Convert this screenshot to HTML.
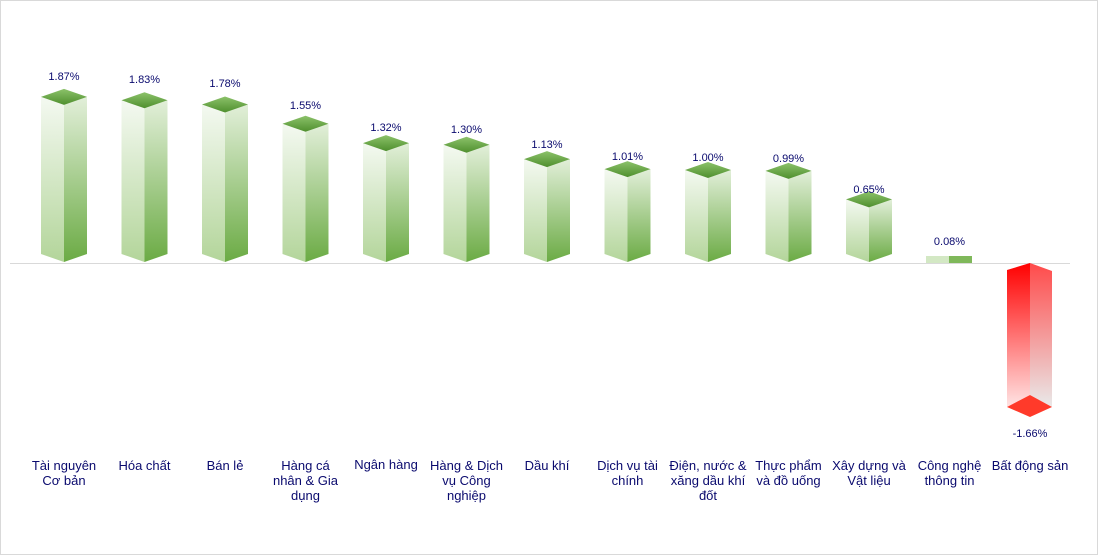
<!DOCTYPE html>
<html><head><meta charset="utf-8"><style>
html,body{margin:0;padding:0;background:#fff}
svg{display:block}
text{font-family:"Liberation Sans",Arial,sans-serif;fill:#0a0a6e}
.v{font-size:11px}
.c{font-size:13px}
</style></head><body>
<svg id="s" width="1098" height="555" viewBox="0 0 1098 555" xmlns="http://www.w3.org/2000/svg">
<defs>
<linearGradient id="gl" x1="0" y1="0" x2="0" y2="1"><stop offset="0" stop-color="#f4f9f1"/><stop offset="1" stop-color="#b3d59a"/></linearGradient>
<linearGradient id="gr" x1="0" y1="0" x2="0" y2="1"><stop offset="0" stop-color="#e2efd9"/><stop offset="1" stop-color="#6bab44"/></linearGradient>
<linearGradient id="gt" x1="0" y1="0" x2="0" y2="1"><stop offset="0" stop-color="#8cc26a"/><stop offset="1" stop-color="#4f8f2e"/></linearGradient>
<linearGradient id="nl" x1="0" y1="0" x2="0" y2="1"><stop offset="0" stop-color="#ff0000"/><stop offset="1" stop-color="#ffe4e4"/></linearGradient>
<linearGradient id="nr" x1="0" y1="0" x2="0" y2="1"><stop offset="0" stop-color="#ff4a4a"/><stop offset="1" stop-color="#e9e9e9"/></linearGradient>
</defs>
<rect x="0.5" y="0.5" width="1097" height="554" fill="#fff" stroke="#d9d9d9"/>
<line x1="10" y1="263.5" x2="1070" y2="263.5" stroke="#d9d9d9" stroke-width="1"/>
<g id="bars"></g>
<polygon points="1007,270 1030,263 1030,395 1007,407" fill="url(#nl)"/>
<polygon points="1030,263 1052,271 1052,407 1030,395" fill="url(#nr)"/>
<polygon points="1007,407 1030,395 1052,407 1030,417" fill="#ff3a2a"/>
<rect x="926" y="256" width="23" height="7" fill="#d3e8c4"/>
<rect x="949" y="256" width="23" height="7" fill="#7fb85a"/>
<g class="v" text-anchor="middle">
<text x="64" y="80">1.87%</text>
<text x="144.5" y="83">1.83%</text>
<text x="225" y="87">1.78%</text>
<text x="305.5" y="109">1.55%</text>
<text x="386" y="131">1.32%</text>
<text x="466.5" y="133">1.30%</text>
<text x="547" y="148">1.13%</text>
<text x="627.5" y="160">1.01%</text>
<text x="708" y="161">1.00%</text>
<text x="788.5" y="162">0.99%</text>
<text x="869" y="193">0.65%</text>
<text x="949.5" y="245">0.08%</text>
<text x="1030" y="437">-1.66%</text>
</g>
<g class="c" text-anchor="middle">
<text x="64" y="470">Tài nguyên<tspan x="64" dy="15">Cơ bản</tspan></text>
<text x="144.5" y="470">Hóa chất</text>
<text x="225" y="470">Bán lẻ</text>
<text x="305.5" y="470">Hàng cá<tspan x="305.5" dy="15">nhân &amp; Gia</tspan><tspan x="305.5" dy="15">dụng</tspan></text>
<text x="386" y="469">Ngân hàng</text>
<text x="466.5" y="470">Hàng &amp; Dịch<tspan x="466.5" dy="15">vụ Công</tspan><tspan x="466.5" dy="15">nghiệp</tspan></text>
<text x="547" y="470">Dầu khí</text>
<text x="627.5" y="470">Dịch vụ tài<tspan x="627.5" dy="15">chính</tspan></text>
<text x="708" y="470">Điện, nước &amp;<tspan x="708" dy="15">xăng dầu khí</tspan><tspan x="708" dy="15">đốt</tspan></text>
<text x="788.5" y="470">Thực phẩm<tspan x="788.5" dy="15">và đồ uống</tspan></text>
<text x="869" y="470">Xây dựng và<tspan x="869" dy="15">Vật liệu</tspan></text>
<text x="949.5" y="470">Công nghệ<tspan x="949.5" dy="15">thông tin</tspan></text>
<text x="1030" y="470">Bất động sản</text>
</g>
</svg>
<script>
var v=[1.87,1.83,1.78,1.55,1.32,1.30,1.13,1.01,1.00,0.99,0.65];
var g=document.getElementById('bars'),h='';
for(var i=0;i<v.length;i++){var c=64+80.5*i,T=262-v[i]*84,l=c-23,r=c+23;
h+='<polygon points="'+l+','+(T-8)+' '+c+','+T+' '+c+',262 '+l+',254" fill="url(#gl)"/>';
h+='<polygon points="'+c+','+T+' '+r+','+(T-8)+' '+r+',254 '+c+',262" fill="url(#gr)"/>';
h+='<polygon points="'+l+','+(T-8)+' '+c+','+(T-16)+' '+r+','+(T-8)+' '+c+','+T+'" fill="url(#gt)"/>';}
g.innerHTML=h;
</script>
</body></html>
